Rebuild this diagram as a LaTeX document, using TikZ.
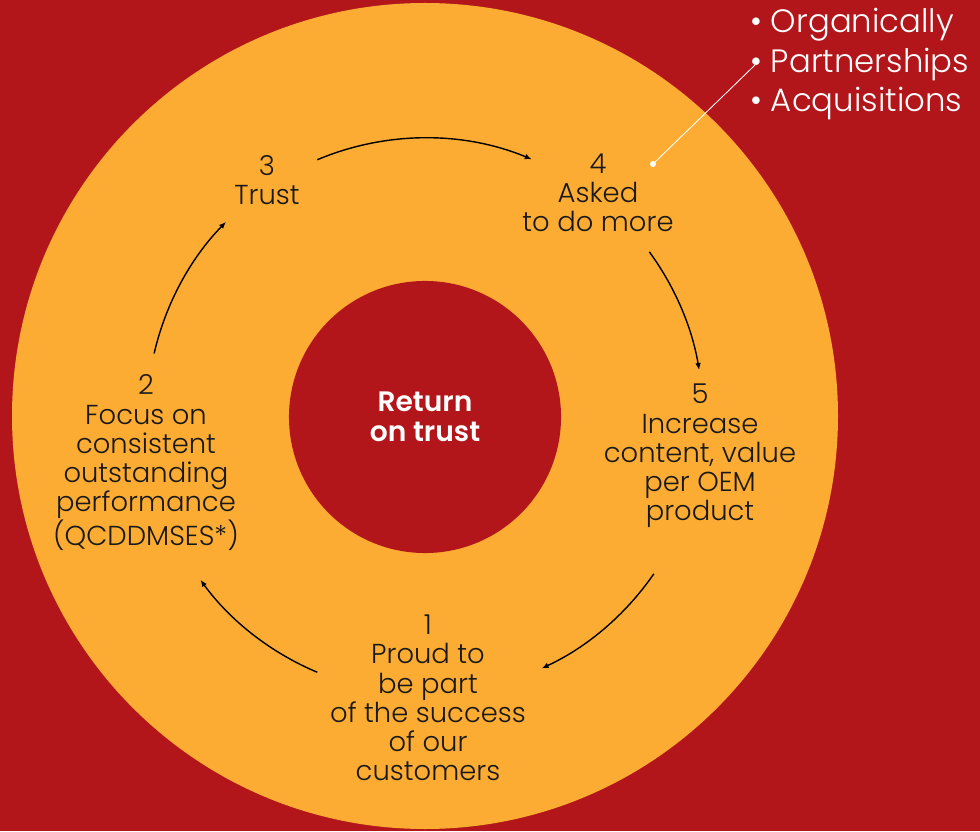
\documentclass[tikz,border=0pt]{standalone}
\usepackage{fontspec}
\setmainfont{Poppins}[UprightFont={* Light},BoldFont={* SemiBold}]
\usetikzlibrary{arrows.meta,calc}
\definecolor{ringred}{RGB}{178,22,26}
\definecolor{ringorange}{RGB}{253,172,51}
\begin{document}
\begin{tikzpicture}[x=0.025cm,y=0.025cm,
  step node/.style={align=center,font=\fontsize{19.5}{20.8}\selectfont,text=black!90},
  flow/.style={line width=1pt,-{Latex[length=5pt,width=4pt]}},
  item node/.style={anchor=west,text=white,font=\fontsize{23}{28}\selectfont,inner sep=0pt}]
  \fill[ringred] (0,0) rectangle (980,831);
  \useasboundingbox (0,0) rectangle (980,831);
  \coordinate (C) at (425,415);
  \fill[ringorange] (C) circle[radius=413];
  \node[circle,fill=ringred,minimum size=6.8cm,align=center,text=white,
    font=\fontsize{20}{21.5}\selectfont\bfseries] (core) at (425,414) {Return\\on trust};

  \node[step node] (s1) at (428,133) {1\\Proud to\\be part\\of the success\\of our\\customers};
  \node[step node] (s2) at (146,368) {2\\Focus on\\consistent\\outstanding\\performance\\(QCDDMSES*)};
  \node[step node] (s3) at (267,651) {3\\Trust};
  \node[step node] (s4) at (598,638) {4\\Asked\\to do more};
  \node[step node] (s5) at (700,375) {5\\Increase\\content, value\\per OEM\\product};

  \foreach \a/\b in {112.8/67.4,36.2/9.5,-34.6/-65.2,-112.8/-143.9,167/135.7}
    \draw[flow] ($(C)+(\a:278)$) arc[start angle=\a,end angle=\b,radius=278];

  \node[item node] (b1) at (750,806) {• Organically};
  \node[item node] (b2) at (750,766) {• Partnerships};
  \node[item node] (b3) at (750,727) {• Acquisitions};
  \coordinate (hook) at (653,667);
  \fill[white] (hook) circle[radius=3];
  \draw[white,line width=0.6pt] (hook) -- ($(b2.west)+(5,0)$);
\end{tikzpicture}
\end{document}
